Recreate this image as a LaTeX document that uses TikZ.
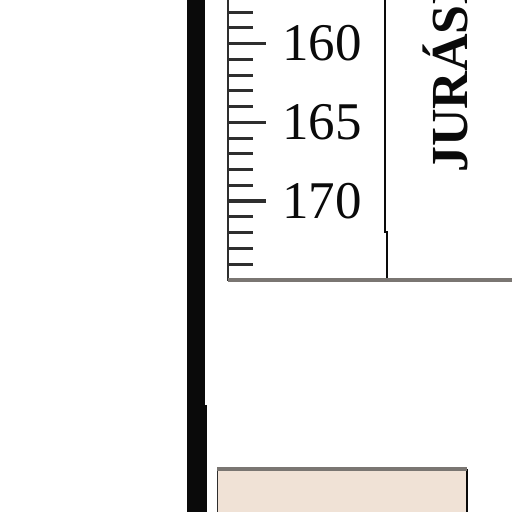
\documentclass[tikz,border=0pt]{standalone}
\usepackage{fontspec}
\setmainfont{Liberation Serif}
\usetikzlibrary{positioning}
\definecolor{ink}{HTML}{0A0A0A}
\definecolor{rule}{HTML}{2E2E2E}
\definecolor{edge}{HTML}{7A7672}
\definecolor{sand}{HTML}{F0E2D6}
\tikzset{
  tick/.style={draw=rule, line width=3pt},
  longtick/.style={draw=rule, line width=3.4pt},
  num/.style={font=\fontsize{53}{60}\selectfont, inner sep=0pt, text=ink},
  era/.style={font=\fontsize{52}{60}\selectfont\bfseries, inner sep=0pt,
              text=ink, rotate=90, anchor=base west},
  frame/.style={draw=ink, line width=2.6pt},
}

\begin{document}
\begin{tikzpicture}[x=1pt, y=-1pt]
\useasboundingbox (0,0) rectangle (512,512);
\clip (0,0) rectangle (512,512);
\fill[white] (0,0) rectangle (512,512);

% --- thick axis bar -----------------------------------------------------
\fill[ink] (187,-5) rectangle (205,406);
\fill[ink] (187,405) rectangle (207,520);

% --- depth ruler --------------------------------------------------------
\draw[draw=rule, line width=2.6pt] (228,-5) -- (228,281);
\foreach \v in {157,...,174}{
  \pgfmathsetmacro{\yy}{43.5+(\v-160)*15.75}
  \pgfmathtruncatemacro{\md}{mod(\v,5)}
  \ifnum\md=0
    \draw[longtick] (228,\yy) -- (266,\yy);
  \else
    \draw[tick] (228,\yy) -- (253,\yy);
  \fi
}
\node[num] (d160) at (322,43) {160};
\node[num] (d165) at (322,122) {165};
\node[num] (d170) at (322,201) {170};

% --- period column ------------------------------------------------------
\draw[frame] (385,-5) -- (385,232) -- (387,232) -- (387,281);
\draw[draw=edge, line width=3.5pt] (228,280) -- (512,280);
\node[era] (jur) at (467,173) {JURÁSICO};

% --- lower unit ---------------------------------------------------------
\fill[sand] (217,469) rectangle (467,520);
\draw[draw=rule, line width=1.4pt] (217.5,469) -- (217.5,520);
\draw[frame] (467,469) -- (467,520);
\draw[draw=edge, line width=3.5pt] (217,469) -- (467,469);
\end{tikzpicture}
\end{document}
